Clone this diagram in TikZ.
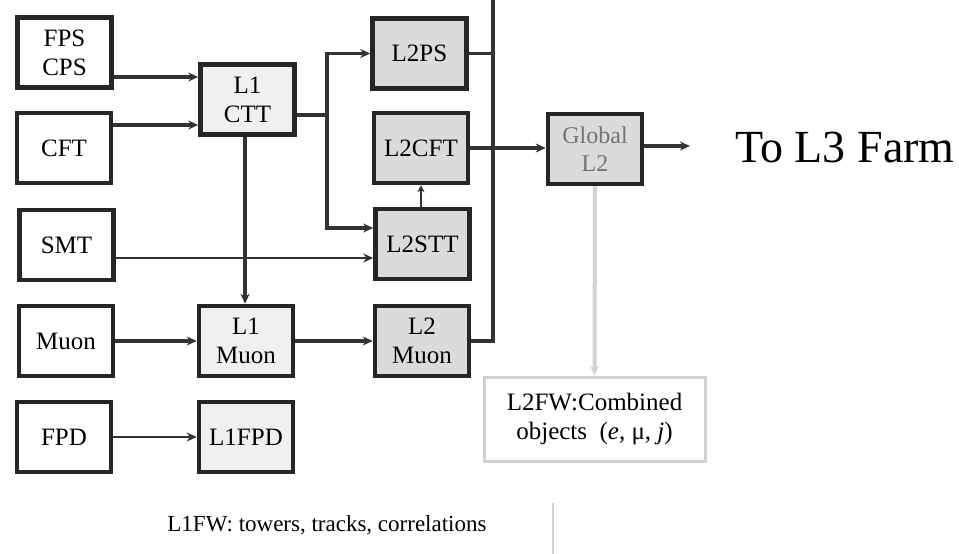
\documentclass[tikz,border=0pt]{standalone}
\usepackage{fontspec}
\setmainfont{Liberation Serif}
\usepackage{tikz}
\usetikzlibrary{arrows.meta}

\tikzset{
  inbox/.style={draw=black!85, line width=4.5pt, minimum width=94pt, minimum height=70pt,
    align=center, inner sep=2pt, font=\fontsize{25}{29}\selectfont},
  lonebox/.style={inbox, fill=gray!12},
  ltwobox/.style={inbox, fill=gray!28},
  arr/.style={draw=black!80, line width=3.5pt, -{Stealth[length=10pt,width=9pt]}},
  wire/.style={draw=black!80, line width=3.5pt}
}

\begin{document}
\begin{tikzpicture}[x=1pt,y=-1pt]
\useasboundingbox (0,0) rectangle (959,554);

% detectors
\node[inbox] (fpscps) at (64.5,52.5) {FPS\\CPS};
\node[inbox] (cft) at (64,148) {CFT};
\node[inbox] (smt) at (66.5,245) {SMT};
\node[inbox] (muon) at (66,341) {Muon};
\node[inbox] (fpd) at (64,437) {FPD};

% level 1
\node[lonebox] (lonectt) at (247.5,99.5) {L1\\CTT};
\node[lonebox] (lonemuon) at (246,341) {L1\\Muon};
\node[lonebox] (lonefpd) at (246,437) {L1FPD};

% level 2
\node[ltwobox] (ltwops) at (419.5,53.5) {L2PS};
\node[ltwobox] (ltwocft) at (421,148) {L2CFT};
\node[ltwobox] (ltwostt) at (422.5,244) {L2STT};
\node[ltwobox] (ltwomuon) at (422,341) {L2\\Muon};
\node[ltwobox, text=black!55, font=\fontsize{24}{28}\selectfont] (global) at (595,149) {Global\\L2};

\node[draw=gray!35, line width=3pt, minimum width=221pt, minimum height=84pt, align=center,
  font=\fontsize{25}{29}\selectfont] (ltwofw) at (594.5,419)
  {L2FW:Combined\\objects\ \ (\textit{e}, μ, \textit{j})};

\node[font=\fontsize{46}{50}\selectfont] (tolthree) at (845,147) {To L3 Farm};
\node[font=\fontsize{23}{25}\selectfont] (lonefw) at (327,525) {L1FW: towers, tracks, correlations};

\coordinate (split) at (327,115);
\coordinate (bustop) at (493,0);
\coordinate (busend) at (493,341);
\coordinate (farm) at (690,146);

% connectors
\draw[arr] (fpscps.east |- 0,77) -- (lonectt.west |- 0,77);
\draw[arr] (cft.east |- 0,125) -- (lonectt.west |- 0,125);
\draw[wire] (lonectt.east |- split) -- (split);
\draw[arr] (split) |- (ltwops.west);
\draw[arr] (split) |- (ltwostt.west |- 0,228);
\draw[arr, line width=2.5pt] (smt.east |- 0,258) -- (ltwostt.west |- 0,258);
\draw[arr] (lonectt.south -| 245,0) -- (lonemuon.north -| 245,0);
\draw[arr] (muon.east) -- (lonemuon.west);
\draw[arr] (lonemuon.east) -- (ltwomuon.west);
\draw[arr, line width=2.5pt] (fpd.east) -- (lonefpd.west);
\draw[arr, line width=2pt, -{Stealth[length=7pt,width=7pt]}] (ltwostt.north -| 421,0) -- (ltwocft.south);
\draw[wire, line width=4pt] (bustop) -- (busend) -- (ltwomuon.east);
\draw[wire] (ltwops.east) -- (ltwops.east -| bustop);
\draw[arr] (ltwocft.east) -- (global.west |- ltwocft.east);
\draw[arr] (global.east |- farm) -- (farm);
\draw[arr, draw=gray!35, line width=4pt] (global.south) -- (ltwofw.north);
\draw[gray!35, line width=2pt] (553,503) -- (553,554);
\end{tikzpicture}
\end{document}
